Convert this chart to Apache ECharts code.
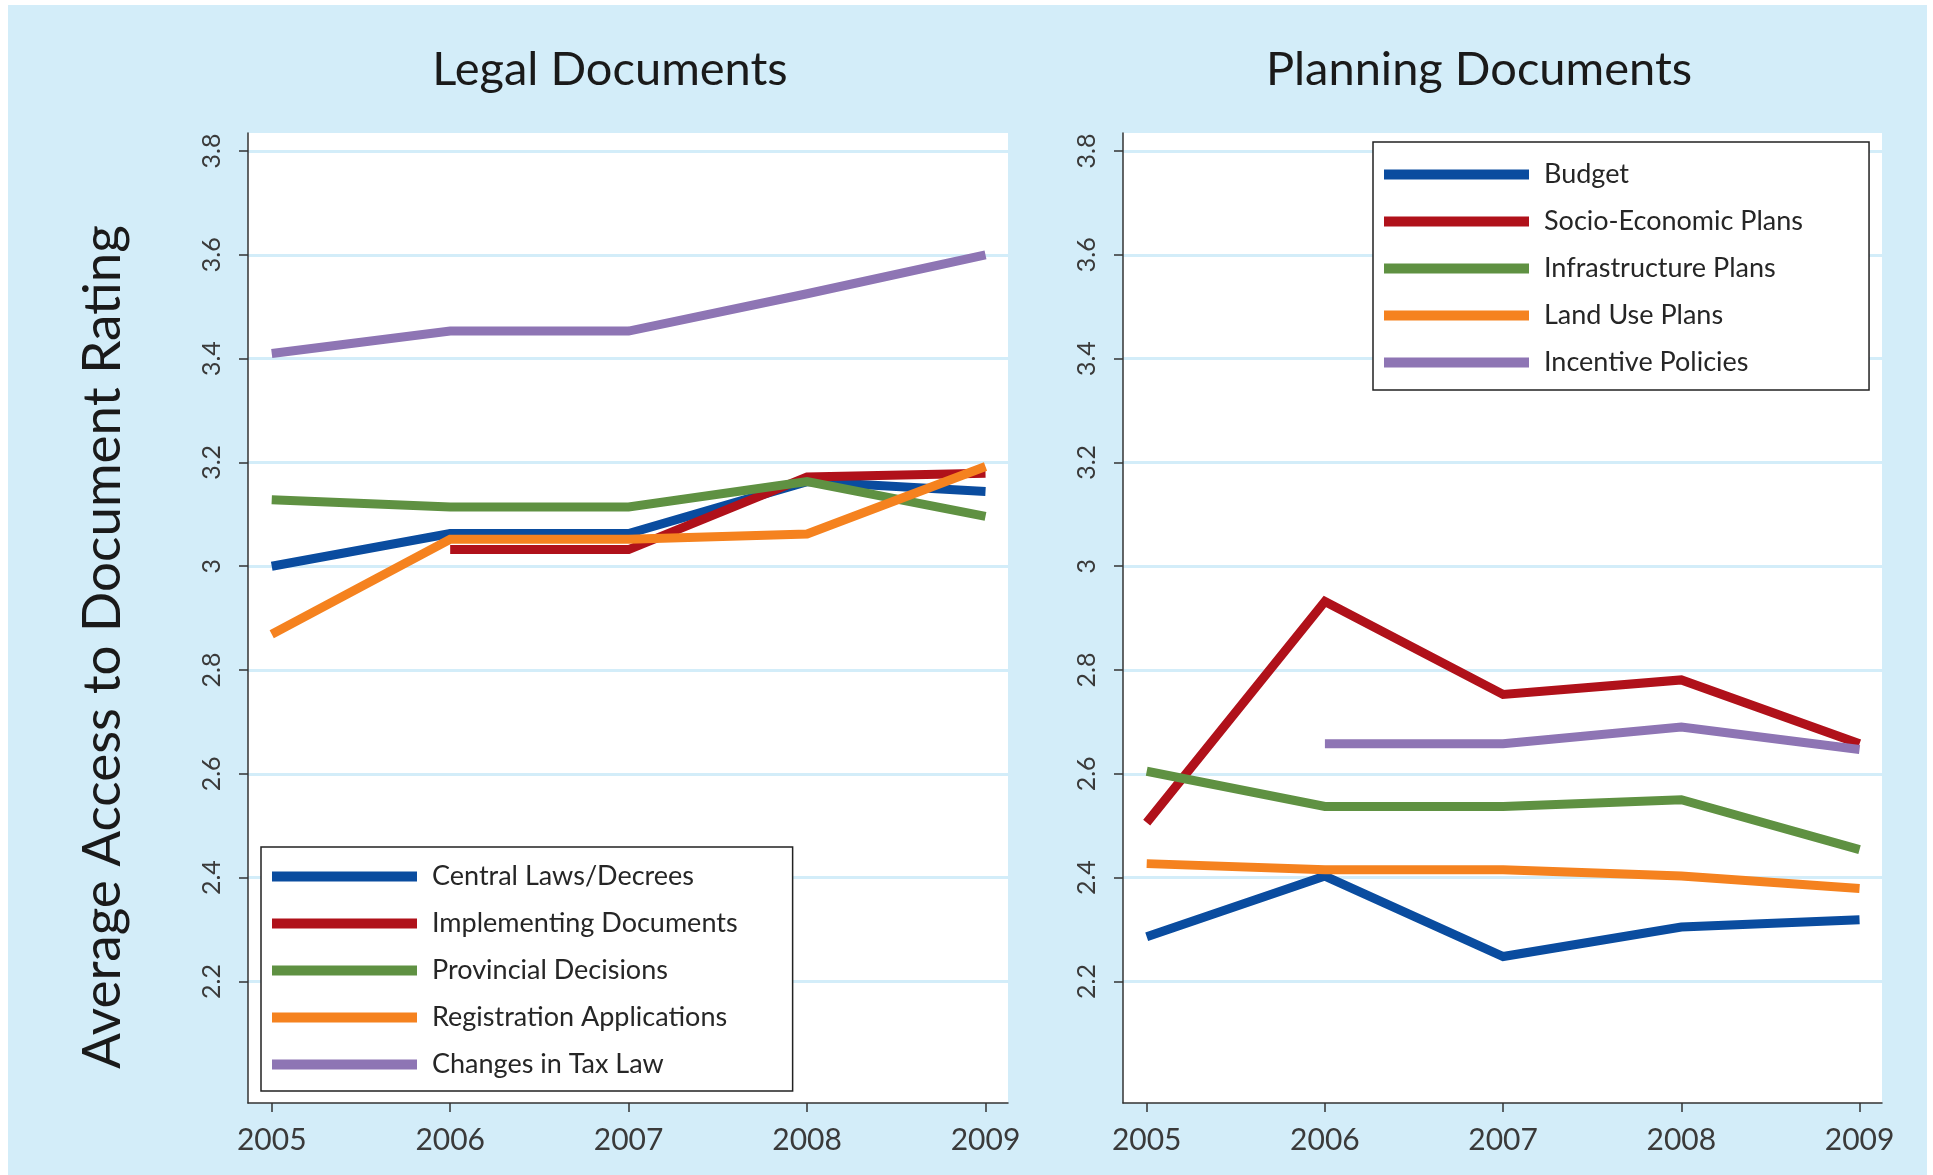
<!DOCTYPE html>
<html>
<head>
<meta charset="utf-8">
<script src="https://cdn.jsdelivr.net/npm/echarts@6/dist/echarts.min.js"></script>
<style>
html,body{margin:0;padding:0;background:#ffffff;width:1933px;height:1175px;overflow:hidden;}
#c{position:absolute;left:8px;top:5px;width:1919px;height:1170px;background:#d3edf9;}
</style>
</head>
<body>
<div id="c"></div>
<script>
// ---- data ----
const years = [2005, 2006, 2007, 2008, 2009];
const yTicks = [2.2, 2.4, 2.6, 2.8, 3.0, 3.2, 3.4, 3.6, 3.8];
const panelTitles = ['Legal Documents', 'Planning Documents'];
const yAxisTitle = 'Average Access to Document Rating';

const legalNames = ['Central Laws/Decrees', 'Implementing Documents', 'Provincial Decisions', 'Registration Applications', 'Changes in Tax Law'];
const centralLaws = [3.00, 3.063, 3.063, 3.163, 3.144];
const implementingDocs = [null, 3.032, 3.032, 3.172, 3.179];
const provincialDecisions = [3.128, 3.114, 3.114, 3.163, 3.096];
const registrationApps = [2.869, 3.052, 3.052, 3.062, 3.192];
const taxLawChanges = [3.41, 3.453, 3.453, 3.525, 3.60];

const planningNames = ['Budget', 'Socio-Economic Plans', 'Infrastructure Plans', 'Land Use Plans', 'Incentive Policies'];
const budget = [2.286, 2.403, 2.248, 2.305, 2.319];
const socioEconomic = [2.506, 2.932, 2.753, 2.781, 2.658];
const infrastructure = [2.605, 2.537, 2.537, 2.550, 2.454];
const landUse = [2.427, 2.415, 2.415, 2.403, 2.379];
const incentive = [null, 2.658, 2.658, 2.690, 2.647];

const colors = ['#0a4c9f', '#b0111a', '#5f9142', '#f5821f', '#8e75b4'];

// ---- chart ----
const FONT = 'Lato';
const toPairs = arr => years.map((y, i) => [y, arr[i]]);

function xAxis(idx) {
  return {
    type: 'value', gridIndex: idx, min: 2004.867, max: 2009.126,
    axisLine: { show: true, onZero: false, lineStyle: { color: '#333', width: 1.5 } },
    axisTick: { show: true, length: 9, customValues: years, lineStyle: { color: '#333', width: 1.5 } },
    axisLabel: { customValues: years, formatter: v => String(v), fontFamily: FONT, fontSize: 30, color: '#3a3a3a', margin: 22 },
    splitLine: { show: false }
  };
}
function yAxis(idx) {
  return {
    type: 'value', gridIndex: idx, min: 1.9658, max: 3.8347,
    axisLine: { show: true, onZero: false, lineStyle: { color: '#333', width: 1.5 } },
    axisTick: { show: true, length: 9, customValues: yTicks, lineStyle: { color: '#333', width: 1.5 } },
    axisLabel: { customValues: yTicks, formatter: v => String(+v.toFixed(1)), rotate: 90, fontFamily: FONT, fontSize: 25, color: '#3a3a3a', margin: 24 },
    splitLine: { show: true, lineStyle: { color: '#d3edf9', width: 3 } }
  };
}

const allSeries = [];
[[centralLaws, implementingDocs, provincialDecisions, registrationApps, taxLawChanges],
 [budget, socioEconomic, infrastructure, landUse, incentive]].forEach((group, gi) => {
  const names = gi === 0 ? legalNames : planningNames;
  group.forEach((arr, si) => {
    allSeries.push({
      type: 'line', name: names[si], xAxisIndex: gi, yAxisIndex: gi,
      data: toPairs(arr), showSymbol: false, symbol: 'none', connectNulls: false,
      color: colors[si],
      lineStyle: { color: colors[si], width: 9, join: 'miter' },
      emphasis: { disabled: true }, animation: false
    });
  });
});

function legend(names, left, top, padding) {
  return {
    data: names.map(n => ({ name: n, icon: 'rect' })),
    orient: 'vertical', left: left, top: top,
    itemWidth: 145, itemHeight: 10, itemGap: 20,
    backgroundColor: '#ffffff', borderColor: '#222', borderWidth: 1.5,
    padding: padding, selectedMode: false,
    textStyle: { fontFamily: FONT, fontSize: 27, color: '#262626', lineHeight: 27, padding: [0, 0, 0, 10] }
  };
}

const chart = echarts.init(document.getElementById('c'), null, { renderer: 'canvas' });
chart.setOption({
  animation: false,
  backgroundColor: 'transparent',
  title: [
    { text: panelTitles[0], left: 597, top: 36, textAlign: 'center', textStyle: { fontFamily: FONT, fontSize: 47, fontWeight: 'normal', color: '#1a1a1a' } },
    { text: panelTitles[1], left: 1466, top: 36, textAlign: 'center', textStyle: { fontFamily: FONT, fontSize: 47, fontWeight: 'normal', color: '#1a1a1a' } }
  ],
  grid: [
    { left: 240, top: 128, width: 760, height: 970, show: true, backgroundColor: '#ffffff', borderWidth: 0 },
    { left: 1115, top: 128, width: 759, height: 970, show: true, backgroundColor: '#ffffff', borderWidth: 0 }
  ],
  xAxis: [xAxis(0), xAxis(1)],
  yAxis: [yAxis(0), yAxis(1)],
  legend: [
    legend(legalNames, 253, 842, [16, 55, 13, 11]),
    legend(planningNames, 1365, 137, [19, 66, 14, 11])
  ],
  graphic: [{
    type: 'text', x: 95, y: 642, rotation: Math.PI / 2,
    style: { text: yAxisTitle, fontFamily: FONT, fontSize: 53, fill: '#1a1a1a', textAlign: 'center', textVerticalAlign: 'middle' }
  }],
  series: allSeries
});
</script>
</body>
</html>
